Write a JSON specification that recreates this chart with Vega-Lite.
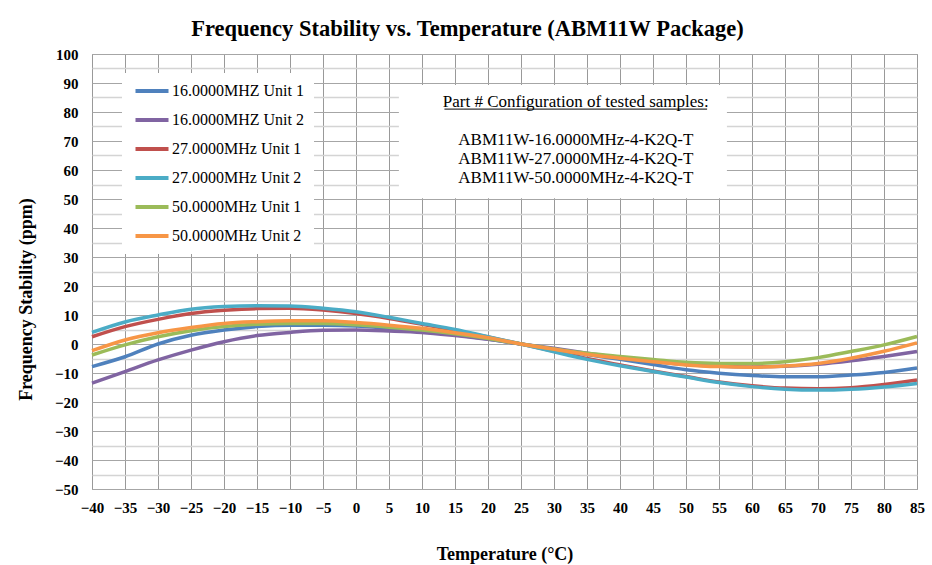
{
  "$schema": "https://vega.github.io/schema/vega-lite/v6.json",
  "width": 825,
  "height": 435,
  "autosize": {"type": "none"},
  "padding": {"left": 92, "top": 54, "right": 15, "bottom": 76},
  "background": "white",
  "config": {
    "font": "Liberation Serif",
    "view": {"stroke": "#999999", "strokeWidth": 1}
  },
  "title": {
    "text": "Frequency Stability  vs. Temperature (ABM11W Package)",
    "font": "Liberation Serif",
    "fontSize": 22.5,
    "fontWeight": "bold",
    "color": "black",
    "anchor": "middle",
    "dx": -37,
    "offset": 7
  },
  "resolve": {"axis": {"x": "independent", "y": "independent"}},
  "layer": [
    {
      "data": {"values": [
        {"t": -40, "s": "16.0000MHZ Unit 1", "v": -7.8}, {"t": -35, "s": "16.0000MHZ Unit 1", "v": -4.4}, {"t": -30, "s": "16.0000MHZ Unit 1", "v": 0.0}, {"t": -25, "s": "16.0000MHZ Unit 1", "v": 3.0}, {"t": -20, "s": "16.0000MHZ Unit 1", "v": 4.8}, {"t": -15, "s": "16.0000MHZ Unit 1", "v": 6.0}, {"t": -10, "s": "16.0000MHZ Unit 1", "v": 6.5}, {"t": -5, "s": "16.0000MHZ Unit 1", "v": 6.5}, {"t": 0, "s": "16.0000MHZ Unit 1", "v": 6.2}, {"t": 5, "s": "16.0000MHZ Unit 1", "v": 5.4}, {"t": 10, "s": "16.0000MHZ Unit 1", "v": 4.5}, {"t": 15, "s": "16.0000MHZ Unit 1", "v": 3.2}, {"t": 20, "s": "16.0000MHZ Unit 1", "v": 1.7}, {"t": 25, "s": "16.0000MHZ Unit 1", "v": 0}, {"t": 30, "s": "16.0000MHZ Unit 1", "v": -1.8}, {"t": 35, "s": "16.0000MHZ Unit 1", "v": -3.6}, {"t": 40, "s": "16.0000MHZ Unit 1", "v": -5.3}, {"t": 45, "s": "16.0000MHZ Unit 1", "v": -7.1}, {"t": 50, "s": "16.0000MHZ Unit 1", "v": -8.9}, {"t": 55, "s": "16.0000MHZ Unit 1", "v": -10.1}, {"t": 60, "s": "16.0000MHZ Unit 1", "v": -10.9}, {"t": 65, "s": "16.0000MHZ Unit 1", "v": -11.3}, {"t": 70, "s": "16.0000MHZ Unit 1", "v": -11.3}, {"t": 75, "s": "16.0000MHZ Unit 1", "v": -10.7}, {"t": 80, "s": "16.0000MHZ Unit 1", "v": -9.8}, {"t": 85, "s": "16.0000MHZ Unit 1", "v": -8.3},
        {"t": -40, "s": "16.0000MHZ Unit 2", "v": -13.5}, {"t": -35, "s": "16.0000MHZ Unit 2", "v": -9.5}, {"t": -30, "s": "16.0000MHZ Unit 2", "v": -5.5}, {"t": -25, "s": "16.0000MHZ Unit 2", "v": -2.1}, {"t": -20, "s": "16.0000MHZ Unit 2", "v": 0.8}, {"t": -15, "s": "16.0000MHZ Unit 2", "v": 2.9}, {"t": -10, "s": "16.0000MHZ Unit 2", "v": 4.0}, {"t": -5, "s": "16.0000MHZ Unit 2", "v": 4.7}, {"t": 0, "s": "16.0000MHZ Unit 2", "v": 4.8}, {"t": 5, "s": "16.0000MHZ Unit 2", "v": 4.5}, {"t": 10, "s": "16.0000MHZ Unit 2", "v": 4.0}, {"t": 15, "s": "16.0000MHZ Unit 2", "v": 2.9}, {"t": 20, "s": "16.0000MHZ Unit 2", "v": 1.6}, {"t": 25, "s": "16.0000MHZ Unit 2", "v": 0}, {"t": 30, "s": "16.0000MHZ Unit 2", "v": -1.5}, {"t": 35, "s": "16.0000MHZ Unit 2", "v": -3.2}, {"t": 40, "s": "16.0000MHZ Unit 2", "v": -4.7}, {"t": 45, "s": "16.0000MHZ Unit 2", "v": -6.0}, {"t": 50, "s": "16.0000MHZ Unit 2", "v": -7.1}, {"t": 55, "s": "16.0000MHZ Unit 2", "v": -7.7}, {"t": 60, "s": "16.0000MHZ Unit 2", "v": -7.9}, {"t": 65, "s": "16.0000MHZ Unit 2", "v": -7.7}, {"t": 70, "s": "16.0000MHZ Unit 2", "v": -7.0}, {"t": 75, "s": "16.0000MHZ Unit 2", "v": -5.8}, {"t": 80, "s": "16.0000MHZ Unit 2", "v": -4.3}, {"t": 85, "s": "16.0000MHZ Unit 2", "v": -2.6},
        {"t": -40, "s": "27.0000MHz Unit 1", "v": 2.5}, {"t": -35, "s": "27.0000MHz Unit 1", "v": 6.0}, {"t": -30, "s": "27.0000MHz Unit 1", "v": 8.5}, {"t": -25, "s": "27.0000MHz Unit 1", "v": 10.5}, {"t": -20, "s": "27.0000MHz Unit 1", "v": 11.6}, {"t": -15, "s": "27.0000MHz Unit 1", "v": 12.2}, {"t": -10, "s": "27.0000MHz Unit 1", "v": 12.3}, {"t": -5, "s": "27.0000MHz Unit 1", "v": 11.7}, {"t": 0, "s": "27.0000MHz Unit 1", "v": 10.5}, {"t": 5, "s": "27.0000MHz Unit 1", "v": 8.8}, {"t": 10, "s": "27.0000MHz Unit 1", "v": 6.8}, {"t": 15, "s": "27.0000MHz Unit 1", "v": 4.7}, {"t": 20, "s": "27.0000MHz Unit 1", "v": 2.4}, {"t": 25, "s": "27.0000MHz Unit 1", "v": 0}, {"t": 30, "s": "27.0000MHz Unit 1", "v": -2.5}, {"t": 35, "s": "27.0000MHz Unit 1", "v": -5.0}, {"t": 40, "s": "27.0000MHz Unit 1", "v": -7.2}, {"t": 45, "s": "27.0000MHz Unit 1", "v": -9.3}, {"t": 50, "s": "27.0000MHz Unit 1", "v": -11.2}, {"t": 55, "s": "27.0000MHz Unit 1", "v": -13.1}, {"t": 60, "s": "27.0000MHz Unit 1", "v": -14.4}, {"t": 65, "s": "27.0000MHz Unit 1", "v": -15.2}, {"t": 70, "s": "27.0000MHz Unit 1", "v": -15.4}, {"t": 75, "s": "27.0000MHz Unit 1", "v": -15.1}, {"t": 80, "s": "27.0000MHz Unit 1", "v": -14.0}, {"t": 85, "s": "27.0000MHz Unit 1", "v": -12.4},
        {"t": -40, "s": "27.0000MHz Unit 2", "v": 4.0}, {"t": -35, "s": "27.0000MHz Unit 2", "v": 7.6}, {"t": -30, "s": "27.0000MHz Unit 2", "v": 10.0}, {"t": -25, "s": "27.0000MHz Unit 2", "v": 12.0}, {"t": -20, "s": "27.0000MHz Unit 2", "v": 12.9}, {"t": -15, "s": "27.0000MHz Unit 2", "v": 13.2}, {"t": -10, "s": "27.0000MHz Unit 2", "v": 13.1}, {"t": -5, "s": "27.0000MHz Unit 2", "v": 12.3}, {"t": 0, "s": "27.0000MHz Unit 2", "v": 11.1}, {"t": 5, "s": "27.0000MHz Unit 2", "v": 9.2}, {"t": 10, "s": "27.0000MHz Unit 2", "v": 7.1}, {"t": 15, "s": "27.0000MHz Unit 2", "v": 5.0}, {"t": 20, "s": "27.0000MHz Unit 2", "v": 2.5}, {"t": 25, "s": "27.0000MHz Unit 2", "v": 0}, {"t": 30, "s": "27.0000MHz Unit 2", "v": -2.7}, {"t": 35, "s": "27.0000MHz Unit 2", "v": -5.3}, {"t": 40, "s": "27.0000MHz Unit 2", "v": -7.5}, {"t": 45, "s": "27.0000MHz Unit 2", "v": -9.5}, {"t": 50, "s": "27.0000MHz Unit 2", "v": -11.4}, {"t": 55, "s": "27.0000MHz Unit 2", "v": -13.3}, {"t": 60, "s": "27.0000MHz Unit 2", "v": -14.7}, {"t": 65, "s": "27.0000MHz Unit 2", "v": -15.6}, {"t": 70, "s": "27.0000MHz Unit 2", "v": -15.9}, {"t": 75, "s": "27.0000MHz Unit 2", "v": -15.6}, {"t": 80, "s": "27.0000MHz Unit 2", "v": -14.8}, {"t": 85, "s": "27.0000MHz Unit 2", "v": -13.6},
        {"t": -40, "s": "50.0000MHz Unit 1", "v": -3.8}, {"t": -35, "s": "50.0000MHz Unit 1", "v": -0.3}, {"t": -30, "s": "50.0000MHz Unit 1", "v": 2.5}, {"t": -25, "s": "50.0000MHz Unit 1", "v": 4.6}, {"t": -20, "s": "50.0000MHz Unit 1", "v": 6.0}, {"t": -15, "s": "50.0000MHz Unit 1", "v": 6.8}, {"t": -10, "s": "50.0000MHz Unit 1", "v": 7.1}, {"t": -5, "s": "50.0000MHz Unit 1", "v": 7.1}, {"t": 0, "s": "50.0000MHz Unit 1", "v": 6.6}, {"t": 5, "s": "50.0000MHz Unit 1", "v": 5.8}, {"t": 10, "s": "50.0000MHz Unit 1", "v": 4.8}, {"t": 15, "s": "50.0000MHz Unit 1", "v": 3.5}, {"t": 20, "s": "50.0000MHz Unit 1", "v": 1.9}, {"t": 25, "s": "50.0000MHz Unit 1", "v": 0}, {"t": 30, "s": "50.0000MHz Unit 1", "v": -1.7}, {"t": 35, "s": "50.0000MHz Unit 1", "v": -3.2}, {"t": 40, "s": "50.0000MHz Unit 1", "v": -4.3}, {"t": 45, "s": "50.0000MHz Unit 1", "v": -5.3}, {"t": 50, "s": "50.0000MHz Unit 1", "v": -6.3}, {"t": 55, "s": "50.0000MHz Unit 1", "v": -6.7}, {"t": 60, "s": "50.0000MHz Unit 1", "v": -6.7}, {"t": 65, "s": "50.0000MHz Unit 1", "v": -6.1}, {"t": 70, "s": "50.0000MHz Unit 1", "v": -4.7}, {"t": 75, "s": "50.0000MHz Unit 1", "v": -2.6}, {"t": 80, "s": "50.0000MHz Unit 1", "v": -0.3}, {"t": 85, "s": "50.0000MHz Unit 1", "v": 2.6},
        {"t": -40, "s": "50.0000MHz Unit 2", "v": -2.3}, {"t": -35, "s": "50.0000MHz Unit 2", "v": 1.4}, {"t": -30, "s": "50.0000MHz Unit 2", "v": 3.9}, {"t": -25, "s": "50.0000MHz Unit 2", "v": 5.7}, {"t": -20, "s": "50.0000MHz Unit 2", "v": 7.1}, {"t": -15, "s": "50.0000MHz Unit 2", "v": 7.7}, {"t": -10, "s": "50.0000MHz Unit 2", "v": 8.0}, {"t": -5, "s": "50.0000MHz Unit 2", "v": 8.0}, {"t": 0, "s": "50.0000MHz Unit 2", "v": 7.4}, {"t": 5, "s": "50.0000MHz Unit 2", "v": 6.5}, {"t": 10, "s": "50.0000MHz Unit 2", "v": 5.4}, {"t": 15, "s": "50.0000MHz Unit 2", "v": 3.9}, {"t": 20, "s": "50.0000MHz Unit 2", "v": 2.2}, {"t": 25, "s": "50.0000MHz Unit 2", "v": 0}, {"t": 30, "s": "50.0000MHz Unit 2", "v": -1.8}, {"t": 35, "s": "50.0000MHz Unit 2", "v": -3.6}, {"t": 40, "s": "50.0000MHz Unit 2", "v": -4.9}, {"t": 45, "s": "50.0000MHz Unit 2", "v": -6.1}, {"t": 50, "s": "50.0000MHz Unit 2", "v": -7.2}, {"t": 55, "s": "50.0000MHz Unit 2", "v": -7.8}, {"t": 60, "s": "50.0000MHz Unit 2", "v": -8.0}, {"t": 65, "s": "50.0000MHz Unit 2", "v": -7.6}, {"t": 70, "s": "50.0000MHz Unit 2", "v": -6.7}, {"t": 75, "s": "50.0000MHz Unit 2", "v": -4.9}, {"t": 80, "s": "50.0000MHz Unit 2", "v": -2.5}, {"t": 85, "s": "50.0000MHz Unit 2", "v": 0.4}
      ]},
      "mark": {"type": "line", "interpolate": "monotone", "strokeWidth": 3.5},
      "encoding": {
        "x": {
          "field": "t", "type": "quantitative",
          "scale": {"domain": [-40, 85], "nice": false, "zero": false},
          "axis": {
            "values": [-40, -35, -30, -25, -20, -15, -10, -5, 0, 5, 10, 15, 20, 25, 30, 35, 40, 45, 50, 55, 60, 65, 70, 75, 80, 85],
            "grid": true, "gridColor": "#999999", "gridWidth": 1,
            "ticks": false, "domain": false,
            "labelFont": "Liberation Serif", "labelFontSize": 15, "labelFontWeight": "bold", "labelColor": "black",
            "labelPadding": 11, "labelFlush": false, "labelOverlap": false,
            "title": "Temperature  (°C)",
            "titleFont": "Liberation Serif", "titleFontSize": 18, "titleFontWeight": "bold", "titleColor": "black",
            "titlePadding": 30
          }
        },
        "y": {
          "field": "v", "type": "quantitative",
          "scale": {"domain": [-50, 100], "nice": false, "zero": false},
          "axis": {
            "values": [-50, -45, -40, -35, -30, -25, -20, -15, -10, -5, 0, 5, 10, 15, 20, 25, 30, 35, 40, 45, 50, 55, 60, 65, 70, 75, 80, 85, 90, 95, 100],
            "labelExpr": "datum.value % 10 === 0 ? datum.label : ''",
            "grid": true,
            "gridColor": {"condition": {"test": "datum.value % 10 === 0", "value": "#a6a6a6"}, "value": "#d4d4d4"},
            "gridWidth": {"condition": {"test": "datum.value % 10 === 0", "value": 1}, "value": 1.5},
            "ticks": false, "domain": false,
            "labelFont": "Liberation Serif", "labelFontSize": 15, "labelFontWeight": "bold", "labelColor": "black",
            "labelPadding": 14, "labelFlush": false, "labelOverlap": false,
            "title": "Frequency  Stability  (ppm)",
            "titleFont": "Liberation Serif", "titleFontSize": 18, "titleFontWeight": "bold", "titleColor": "black",
            "titleAngle": -90, "titleX": -66, "titleY": 245, "titleAlign": "center", "titleBaseline": "middle"
          }
        },
        "color": {
          "field": "s", "type": "nominal",
          "scale": {
            "domain": ["16.0000MHZ Unit 1", "16.0000MHZ Unit 2", "27.0000MHz Unit 1", "27.0000MHz Unit 2", "50.0000MHz Unit 1", "50.0000MHz Unit 2"],
            "range": ["#4F81BD", "#8064A2", "#C0504D", "#4BACC6", "#9BBB59", "#F79646"]
          },
          "legend": {
            "title": null, "orient": "none", "legendX": 30, "legendY": 19,
            "fillColor": "white", "padding": 10,
            "symbolType": "M-3.3,0H3.3", "symbolSize": 100, "symbolStrokeWidth": 4,
            "symbolOffset": 12,
            "labelFont": "Liberation Serif", "labelFontSize": 16, "labelColor": "black",
            "labelOffset": 12, "rowPadding": 13
          }
        }
      }
    },
    {
      "data": {"values": [{"note": "box"}]},
      "mark": {"type": "rect", "fill": "white"},
      "encoding": {
        "x": {"datum": 6.5, "axis": null},
        "x2": {"datum": 56.2},
        "y": {"datum": 89.3, "axis": null},
        "y2": {"datum": 50.3}
      }
    },
    {
      "data": {"values": [{"note": "Part # Configuration of tested samples:"}]},
      "mark": {"type": "text", "font": "Liberation Serif", "fontSize": 17, "color": "black", "align": "center", "baseline": "middle"},
      "encoding": {
        "x": {"datum": 33.3, "axis": null},
        "y": {"datum": 83.4, "axis": null},
        "text": {"field": "note"}
      }
    },
    {
      "data": {"values": [{"note": "underline"}]},
      "mark": {"type": "rule", "color": "black", "strokeWidth": 1},
      "encoding": {
        "x": {"datum": 13.4, "axis": null},
        "x2": {"datum": 53.2},
        "y": {"datum": 81.0, "axis": null}
      }
    },
    {
      "data": {"values": [{"note": ["ABM11W-16.0000MHz-4-K2Q-T", "ABM11W-27.0000MHz-4-K2Q-T", "ABM11W-50.0000MHz-4-K2Q-T"]}]},
      "mark": {"type": "text", "font": "Liberation Serif", "fontSize": 17, "color": "black", "align": "center", "baseline": "middle", "lineHeight": 19},
      "encoding": {
        "x": {"datum": 33.3, "axis": null},
        "y": {"datum": 70.3, "axis": null},
        "text": {"field": "note"}
      }
    }
  ]
}
